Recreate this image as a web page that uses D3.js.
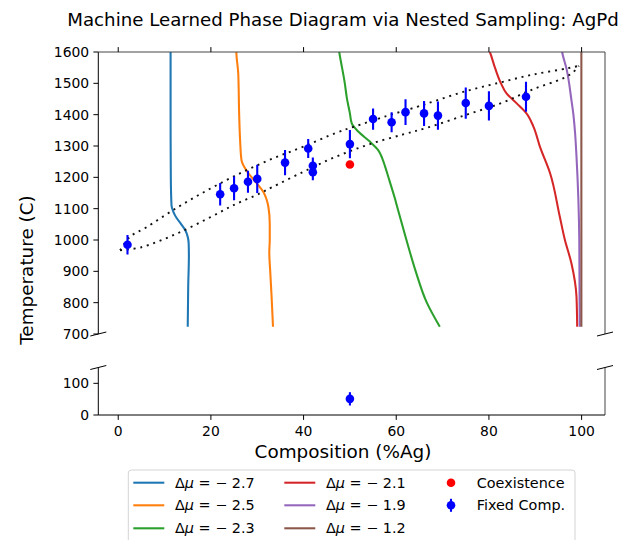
<!DOCTYPE html>
<html lang="en">
<head>
    <meta charset="UTF-8">
    <title>Machine Learned Phase Diagram via Nested Sampling: AgPd</title>
    <script src="https://d3js.org/d3.v7.min.js"></script>
    <style>
        body { margin: 0; background: #fff; }
        svg { display: block; font-family: "DejaVu Sans", sans-serif; }
        .tick-label { font-size: 13.9px; fill: #000; }
        .legend-label { font-size: 14.4px; }
    </style>
</head>
<body>
<svg id="chart" width="640" height="540"></svg>
<script>
    // chemical potential curves (composition read at each temperature)
    const muLabels = ["2.7", "2.5", "2.3", "2.1", "1.9", "1.2"];
    const muColors = ["#1f77b4", "#ff7f0e", "#2ca02c", "#d62728", "#9467bd", "#8c564b"];

    const muT = [
        [1620, 1600, 1400, 1200, 1110, 1090, 1070, 1050, 1030, 1010, 990, 950, 850, 723],
        [1620, 1600, 1532, 1400, 1319, 1255, 1213, 1181, 1154, 1130, 1106, 1053, 1000, 960, 900, 819, 723],
        [1620, 1600, 1500, 1457, 1404, 1372, 1346, 1314, 1287, 1260, 1234, 1191, 1133, 1106, 1000, 900, 800, 723],
        [1620, 1600, 1550, 1500, 1468, 1436, 1404, 1362, 1298, 1213, 1074, 1000, 926, 819, 723],
        [1620, 1600, 1543, 1447, 1404, 1340, 1266, 1000, 723],
        [1620, 723]
    ];
    const muComp = [
        [11.3, 11.3, 11.3, 11.35, 11.5, 11.9, 12.6, 13.6, 14.5, 15.0, 15.2, 15.25, 15.1, 15.0],
        [25.5, 25.5, 25.9, 26.1, 26.3, 26.6, 28.1, 29.9, 31.3, 32.0, 32.4, 32.7, 32.7, 32.6, 32.8, 33.1, 33.4],
        [47.5, 47.7, 48.9, 49.3, 50.0, 50.4, 51.8, 54.3, 56.1, 57.0, 57.6, 58.5, 59.7, 60.2, 62.2, 64.2, 66.6, 69.4],
        [79.6, 80.2, 81.3, 82.6, 83.8, 86.0, 88.1, 89.6, 91.0, 93.2, 95.3, 96.4, 97.8, 98.9, 99.05],
        [95.6, 95.8, 96.8, 97.8, 98.2, 98.6, 98.9, 99.5, 99.6],
        [99.95, 99.95]
    ];

    // dotted phase boundaries
    const upperComp = [0.4, 2.5, 6, 13, 20, 27, 33.5, 40, 47, 51, 58, 64.5, 68, 75, 82.5, 89.5, 97, 99.4];
    const upperT = [967, 1010, 1040, 1106, 1165, 1218, 1261, 1298, 1342, 1362, 1396, 1425, 1442, 1475, 1503, 1528, 1548, 1556];
    const lowerComp = [0.4, 5, 12, 19, 25, 30.6, 33, 40, 47, 54.3, 61.5, 66.6, 75, 82.5, 89.5, 96, 98.3, 99.4];
    const lowerT = [967, 977, 1016, 1066, 1112, 1149, 1167, 1218, 1266, 1306, 1337, 1358, 1399, 1436, 1481, 1516, 1537, 1556];

    // fixed composition runs
    const fixedComp = [2, 22, 25, 28, 30, 36, 41, 42, 42, 50, 55, 59, 62, 66, 69, 75, 80, 88];
    const fixedT = [985, 1146, 1165, 1186, 1195, 1247, 1292, 1237, 1216, 1306, 1386, 1376, 1408, 1404, 1397, 1437, 1428, 1457];
    const fixedErr = [31, 36, 38, 35, 45, 40, 30, 26, 25, 45, 34, 32, 41, 40, 45, 50, 47, 48];
    // the low-temperature run
    const lowComp = [50];
    const lowT = [51];
    const lowErr = [21];

    const coexComp = [50];
    const coexT = [1241];

    const topTicks = [700, 800, 900, 1000, 1100, 1200, 1300, 1400, 1500, 1600];
    const botTicks = [0, 100];
    const xTicks = [0, 20, 40, 60, 80, 100];

    const svg = d3.select("#chart");
    const x = d3.scaleLinear().domain([-4.3, 105.05]).range([98.3, 605]);
    const yTop = d3.scaleLinear().domain([700, 1600]).range([334, 52]);
    const yBot = d3.scaleLinear().domain([0, 150]).range([415, 367.5]);

    const left = x.range()[0], right = x.range()[1];

    svg.append("clipPath").attr("id", "clipTop")
        .append("rect").attr("x", left).attr("y", yTop(1600))
        .attr("width", right - left).attr("height", yTop(700) - yTop(1600));

    const topG = svg.append("g").attr("clip-path", "url(#clipTop)");

    // mu curves
    muT.forEach((ts, i) => {
        const pts = ts.map((t, j) => [muComp[i][j], t]);
        topG.append("path")
            .attr("d", d3.line().x(d => x(d[0])).y(d => yTop(d[1])).curve(d3.curveMonotoneY)(pts))
            .attr("fill", "none")
            .attr("stroke", muColors[i])
            .attr("stroke-width", 2.08);
    });

    // dotted boundaries
    [[upperComp, upperT], [lowerComp, lowerT]].forEach(([cs, ts]) => {
        const pts = cs.map((c, j) => [c, ts[j]]);
        topG.append("path")
            .attr("d", d3.line().x(d => x(d[0])).y(d => yTop(d[1])).curve(d3.curveCatmullRom)(pts))
            .attr("fill", "none")
            .attr("stroke", "#111")
            .attr("stroke-width", 1.9)
            .attr("stroke-dasharray", "2,4.8");
    });

    function errPoints(g, cs, ts, es, y) {
        cs.forEach((c, i) => {
            g.append("line")
                .attr("x1", x(c)).attr("x2", x(c))
                .attr("y1", y(ts[i] - es[i])).attr("y2", y(ts[i] + es[i]))
                .attr("stroke", "#0000ff").attr("stroke-width", 2.1);
            g.append("circle")
                .attr("cx", x(c)).attr("cy", y(ts[i])).attr("r", 4.3)
                .attr("fill", "#0000ff");
        });
    }

    coexComp.forEach((c, i) => {
        topG.append("circle").attr("cx", x(c)).attr("cy", yTop(coexT[i]))
            .attr("r", 4.3).attr("fill", "#ff0000");
    });
    errPoints(topG, fixedComp, fixedT, fixedErr, yTop);
    errPoints(svg.append("g"), lowComp, lowT, lowErr, yBot);

    // spines
    const spine = (x1, y1, x2, y2, c) => svg.append("line")
        .attr("x1", x1).attr("y1", y1).attr("x2", x2).attr("y2", y2)
        .attr("stroke", c).attr("stroke-width", 1);
    spine(left, yTop(1600), left, yTop(700), "#000");
    spine(right, yTop(1600), right, yTop(700), "#444");
    spine(left, yTop(1600), right, yTop(1600), "#444");
    spine(left, yBot(150), left, yBot(0), "#000");
    spine(right, yBot(150), right, yBot(0), "#444");
    spine(left, yBot(0), right, yBot(0), "#000");

    // ticks
    const tl = 4.9;
    topTicks.forEach(t => {
        spine(left - tl, yTop(t), left, yTop(t), "#000");
        svg.append("text").attr("class", "tick-label")
            .attr("x", left - tl - 4.2).attr("y", yTop(t)).attr("dy", "0.36em")
            .attr("text-anchor", "end").text(t);
    });
    botTicks.forEach(t => {
        spine(left - tl, yBot(t), left, yBot(t), "#000");
        svg.append("text").attr("class", "tick-label")
            .attr("x", left - tl - 4.2).attr("y", yBot(t)).attr("dy", "0.36em")
            .attr("text-anchor", "end").text(t);
    });
    xTicks.forEach(t => {
        spine(x(t), yTop(1600) - tl, x(t), yTop(1600), "#000");
        spine(x(t), yBot(0), x(t), yBot(0) + tl, "#000");
        svg.append("text").attr("class", "tick-label")
            .attr("x", x(t)).attr("y", yBot(0) + 20.5)
            .attr("text-anchor", "middle").text(t);
    });

    // break marks
    [left, right].forEach(px => {
        [yTop(700), yBot(150)].forEach(py => {
            spine(px - 8, py + 2, px + 8, py - 2, "#000");
        });
    });

    // titles
    svg.append("text").attr("x", 343).attr("y", 26).attr("text-anchor", "middle")
        .style("font-size", "18.2px").text("Machine Learned Phase Diagram via Nested Sampling: AgPd");
    svg.append("text").attr("x", 343).attr("y", 458).attr("text-anchor", "middle")
        .style("font-size", "18.4px").text("Composition (%Ag)");
    svg.append("text").attr("transform", "translate(32.5,270) rotate(-90)")
        .attr("text-anchor", "middle")
        .style("font-size", "18.4px").text("Temperature (C)");

    // legend
    const lg = svg.append("g");
    lg.append("rect").attr("x", 128.3).attr("y", 470).attr("width", 446.7).attr("height", 90)
        .attr("rx", 3).attr("fill", "#fff").attr("stroke", "#d4d4d4").attr("stroke-width", 1);
    const rows = [482.7, 505.3, 528.3];
    muLabels.forEach((m, i) => {
        const col = Math.floor(i / 3), row = i % 3;
        const lx = col === 0 ? 133.3 : 284.3;
        const tx = col === 0 ? 175 : 326;
        lg.append("line").attr("x1", lx).attr("x2", lx + 31)
            .attr("y1", rows[row]).attr("y2", rows[row])
            .attr("stroke", muColors[i]).attr("stroke-width", 2.08);
        const t = lg.append("text").attr("class", "legend-label")
            .attr("x", tx).attr("y", rows[row]).attr("dy", "0.36em");
        t.append("tspan").text("Δ");
        t.append("tspan").style("font-style", "italic").text("μ");
        t.append("tspan").text(" = − " + m);
    });
    lg.append("circle").attr("cx", 451).attr("cy", rows[0]).attr("r", 4.3).attr("fill", "#ff0000");
    lg.append("line").attr("x1", 451).attr("x2", 451).attr("y1", rows[1] - 6.5).attr("y2", rows[1] + 6.5)
        .attr("stroke", "#0000ff").attr("stroke-width", 2.1);
    lg.append("circle").attr("cx", 451).attr("cy", rows[1]).attr("r", 4.3).attr("fill", "#0000ff");
    lg.append("text").attr("class", "legend-label").attr("x", 476.7).attr("y", rows[0]).attr("dy", "0.36em")
        .text("Coexistence");
    lg.append("text").attr("class", "legend-label").attr("x", 476.7).attr("y", rows[1]).attr("dy", "0.36em")
        .text("Fixed Comp.");
</script>
</body>
</html>
